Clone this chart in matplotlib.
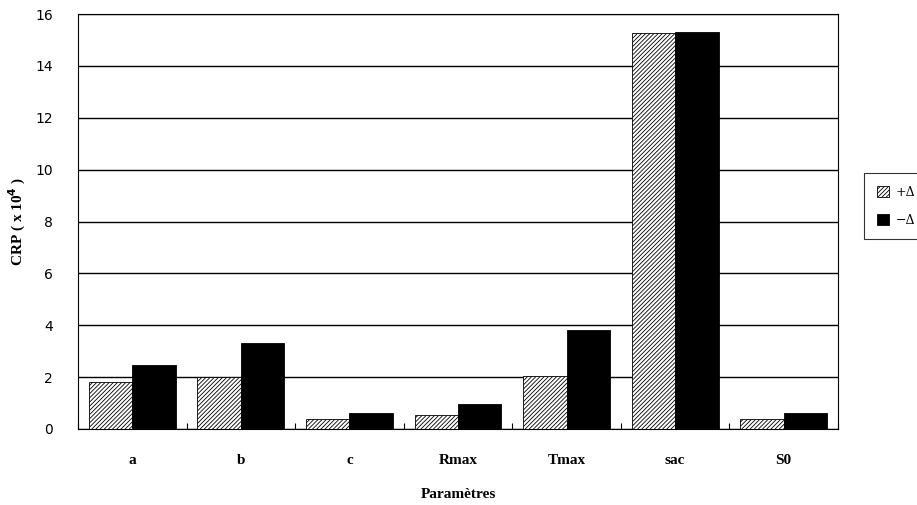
import matplotlib
matplotlib.use("Agg")
import matplotlib.pyplot as plt
import numpy as np

categories = ["a", "b", "c", "Rmax", "Tmax", "sac", "S0"]
plus_delta = [1.8, 2.0, 0.4, 0.55, 2.05, 15.25, 0.4]
minus_delta = [2.45, 3.3, 0.6, 0.95, 3.8, 15.3, 0.6]
yticks = [0, 2, 4, 6, 8, 10, 12, 14, 16]

plt.rcParams['hatch.linewidth'] = 0.6

fig = plt.figure(figsize=(9.17, 5.05), dpi=100)
ax = fig.add_axes([78/917, 1-429/505, 760/917, 415/505])

x = np.arange(len(categories))
w = 0.4
ax.bar(x - w/2, plus_delta, width=w, facecolor="white", edgecolor="black",
       hatch="////////", linewidth=0.6, label="+Δ", zorder=3)
ax.bar(x + w/2, minus_delta, width=w, facecolor="black", edgecolor="black",
       linewidth=0.6, label="−Δ", zorder=3)

ax.set_xlim(-0.5, len(categories) - 0.5)
ax.set_ylim(0, 16)
ax.set_yticks(yticks)
ax.set_yticklabels([str(t) for t in yticks], fontfamily="DejaVu Sans", fontsize=10)
ax.yaxis.grid(True, color="black", linewidth=1.0, zorder=0)
ax.set_axisbelow(True)

ax.set_xticks(x)
ax.set_xticklabels(categories, fontfamily="Liberation Serif", fontweight="bold", fontsize=11)
ax.tick_params(axis="x", length=0, pad=18)
ax.tick_params(axis="y", length=0, pad=18)
ax.set_xticks(np.arange(-0.5, len(categories)), minor=True)
ax.tick_params(axis="x", which="minor", direction="in", length=4, width=0.8)

for s in ax.spines.values():
    s.set_linewidth(0.8)
    s.set_color("black")

ax.set_xlabel("Paramètres", fontfamily="Liberation Serif", fontweight="bold",
              fontsize=11)
ax.xaxis.set_label_coords((458-78)/760, -(488-429)/415)
ax.set_ylabel("CRP ( x 10$^{\\mathbf{4}}$ )", fontfamily="Liberation Serif",
              fontweight="bold", fontsize=11)
ax.yaxis.set_label_coords(-(78-28)/760, 0.5)

leg = ax.legend(loc="upper left", bbox_to_anchor=(858/917, 1-167/505),
                bbox_transform=fig.transFigure, frameon=True, fancybox=False,
                edgecolor="black", handlelength=1.0, handleheight=1.0,
                handletextpad=0.5, labelspacing=1.2, borderpad=1.0,
                prop={"family": "DejaVu Serif", "size": 9})
leg.get_frame().set_linewidth(0.8)

fig.savefig("out.png", dpi=100)
